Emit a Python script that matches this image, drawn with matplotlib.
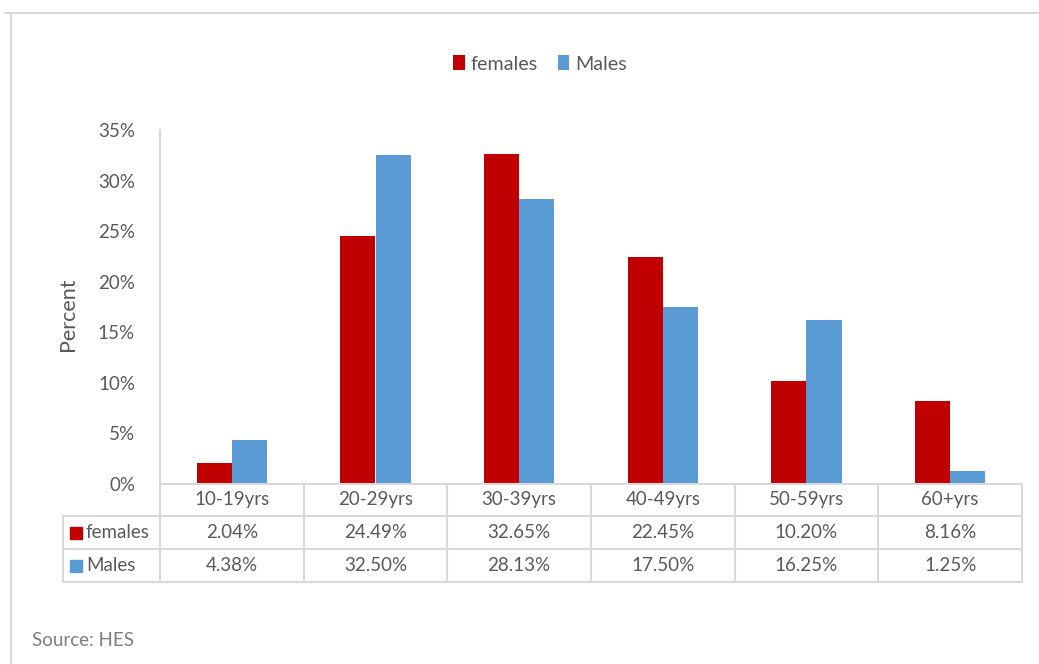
import matplotlib.pyplot as plt
import numpy as np
from matplotlib.patches import Rectangle

plt.rcParams['font.family'] = ['Lato', 'DejaVu Sans']

age_groups = ['10-19yrs', '20-29yrs', '30-39yrs', '40-49yrs', '50-59yrs', '60+yrs']
females = [2.04, 24.49, 32.65, 22.45, 10.20, 8.16]
males = [4.38, 32.50, 28.13, 17.50, 16.25, 1.25]
series_names = ['females', 'Males']
colors = ['#C00000', '#5B9BD5']

W, H = 1039, 664
text_col = '#595959'
grid_col = '#D9D9D9'
fs = 13.5

fig = plt.figure(figsize=(W / 100, H / 100), dpi=100)

def fx(px):
    return px / W

def fy(py):
    return 1 - py / H

# chart area border
fig.add_artist(plt.Line2D([fx(5), fx(1039)], [fy(13), fy(13)], color=grid_col, lw=1.5))
fig.add_artist(plt.Line2D([fx(11), fx(11)], [fy(13), fy(664)], color=grid_col, lw=1.5))

ax_l, ax_r, ax_t, ax_b = 160, 1022, 130, 484
ax = fig.add_axes([fx(ax_l), fy(ax_b), fx(ax_r - ax_l), (ax_b - ax_t) / H])

x = np.arange(len(age_groups))
w = 0.245
ax.bar(x - w / 2, females, w, color=colors[0], label=series_names[0])
ax.bar(x + w / 2, males, w, color=colors[1], label=series_names[1])

ax.set_xlim(-0.5, len(age_groups) - 0.5)
ax.set_ylim(0, 35)
ax.set_yticks(range(0, 36, 5))
ax.set_yticklabels([f'{v}%' for v in range(0, 36, 5)], color=text_col, fontsize=fs)
ax.tick_params(axis='y', length=0, pad=18)
ax.set_xticks([])
for s in ['top', 'right']:
    ax.spines[s].set_visible(False)
for s in ['left', 'bottom']:
    ax.spines[s].set_color(grid_col)
    ax.spines[s].set_linewidth(1.5)
fig.text(fx(68), fy(314), 'Percent', rotation=90, ha='center', va='center',
         color=text_col, fontsize=15.5)

# data table below the axes
rows = [484, 516, 549, 582]
tab_left = 63
bounds = np.linspace(ax_l, ax_r, len(age_groups) + 1)
for r in rows[1:]:
    fig.add_artist(plt.Line2D([fx(tab_left), fx(ax_r)], [fy(r), fy(r)], color=grid_col, lw=1.5))
for b in bounds:
    fig.add_artist(plt.Line2D([fx(b), fx(b)], [fy(rows[0]), fy(rows[-1])], color=grid_col, lw=1.5))
fig.add_artist(plt.Line2D([fx(tab_left), fx(tab_left)], [fy(rows[1]), fy(rows[-1])], color=grid_col, lw=1.5))

centers = (bounds[:-1] + bounds[1:]) / 2
for c, lab in zip(centers, age_groups):
    fig.text(fx(c), fy((rows[0] + rows[1]) / 2), lab, ha='center', va='center',
             color=text_col, fontsize=fs)
for k, (name, vals) in enumerate(zip(series_names, [females, males])):
    yc = (rows[k + 1] + rows[k + 2]) / 2
    fig.add_artist(Rectangle((fx(70), fy(yc + 6)), fx(12), 12 / H, color=colors[k]))
    fig.text(fx(86), fy(yc), name, ha='left', va='center', color=text_col, fontsize=fs)
    for c, v in zip(centers, vals):
        fig.text(fx(c), fy(yc), f'{v:.2f}%', ha='center', va='center',
                 color=text_col, fontsize=fs)

# legend
leg = fig.legend(loc='center', bbox_to_anchor=(fx(540), fy(64)), ncol=2, frameon=False,
                 fontsize=14.2, handlelength=0.6, handleheight=0.8, handletextpad=0.3,
                 columnspacing=1.0)
for t in leg.get_texts():
    t.set_color(text_col)

fig.text(fx(32), fy(640), 'Source: HES', ha='left', va='center', color='#7F7F7F', fontsize=13.5)

fig.savefig('out.png', dpi=100)
